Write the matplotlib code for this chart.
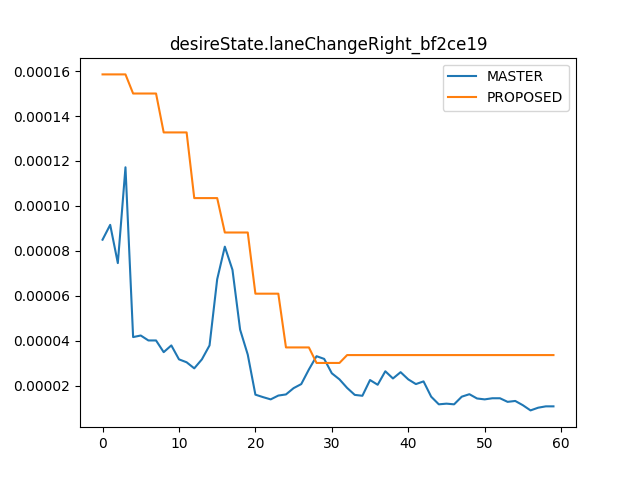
import matplotlib
matplotlib.use('Agg')
import matplotlib.pyplot as plt

title = 'desireState.laneChangeRight_bf2ce19'

master = [
    0.0000850, 0.0000916, 0.0000746, 0.0001172, 0.0000417, 0.0000424, 0.0000402, 0.0000402,
    0.0000350, 0.0000380, 0.0000318, 0.0000305, 0.0000278, 0.0000318, 0.0000380, 0.0000674,
    0.0000819, 0.0000716, 0.0000450, 0.0000339, 0.0000161, 0.0000150, 0.0000140, 0.0000157,
    0.0000162, 0.0000190, 0.0000208, 0.0000273, 0.0000332, 0.0000320, 0.0000256, 0.0000229,
    0.0000191, 0.0000160, 0.0000156, 0.0000226, 0.0000205, 0.0000265, 0.0000233, 0.0000261,
    0.0000229, 0.0000208, 0.0000220, 0.0000152, 0.0000118, 0.0000121, 0.0000118, 0.0000152,
    0.0000163, 0.0000144, 0.0000140, 0.0000145, 0.0000145, 0.0000129, 0.0000133, 0.0000114,
    0.0000091, 0.0000103, 0.0000109, 0.0000109,
]

# piecewise constant levels of the proposed model
proposed = (
    [0.0001585] * 4 + [0.0001500] * 4 + [0.0001327] * 4 + [0.0001035] * 4
    + [0.0000882] * 4 + [0.0000610] * 4 + [0.0000371] * 4 + [0.0000302] * 4
    + [0.0000337] * 28
)

fig, ax = plt.subplots(figsize=(6.4, 4.8), dpi=100)
ax.plot(range(len(master)), master, label='MASTER')
ax.plot(range(len(proposed)), proposed, label='PROPOSED')
ax.set_title(title)
ax.legend()

plt.savefig('out.png')
